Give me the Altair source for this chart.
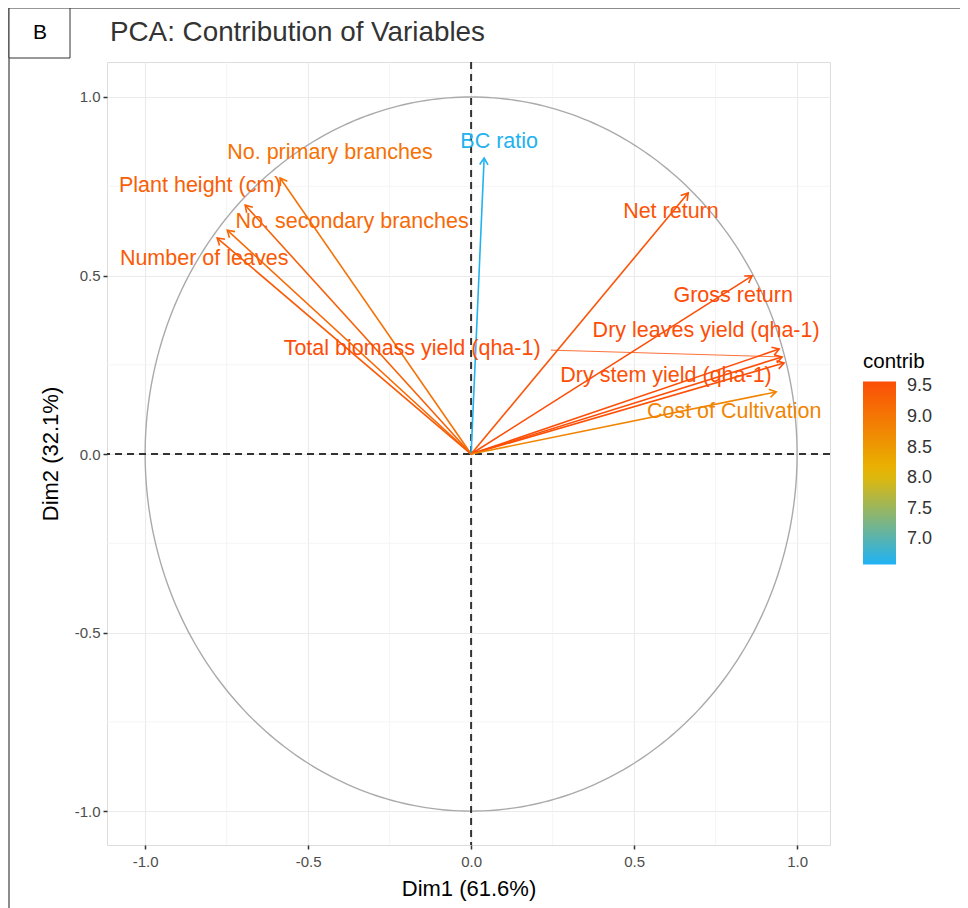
import altair as alt
import pandas as pd
import numpy as np

# ---- data ----
variables = ["Plant height (cm)", "No. primary branches", "No. secondary branches",
             "Number of leaves", "BC ratio", "Net return", "Gross return",
             "Dry leaves yield (qha-1)", "Total biomass yield (qha-1)",
             "Dry stem yield (qha-1)", "Cost of Cultivation"]
dim1 = [-0.693, -0.586, -0.748, -0.779, 0.040, 0.666, 0.862, 0.945, 0.954, 0.960, 0.936]
dim2 = [0.697, 0.773, 0.627, 0.605, 0.829, 0.731, 0.499, 0.294, 0.272, 0.255, 0.174]
contrib = [9.33, 9.07, 9.20, 9.40, 6.62, 9.50, 9.60, 9.58, 9.58, 9.55, 8.80]
label_x = [-0.831, -0.433, -0.365, -0.819, 0.086, 0.613, 0.804, 0.721, -0.181, 0.598, 0.807]
label_y = [0.751, 0.843, 0.650, 0.546, 0.874, 0.678, 0.443, 0.345, 0.294, 0.218, 0.118]

leader_from_x = [0.245]
leader_from_y = [0.291]
leader_to_x = [0.954]
leader_to_y = [0.272]

x_ticks = [-1.0, -0.5, 0.0, 0.5, 1.0]
y_ticks = [-1.0, -0.5, 0.0, 0.5, 1.0]
minor_grid = [-0.75, -0.25, 0.25, 0.75]
legend_ticks = [7.0, 7.5, 8.0, 8.5, 9.0, 9.5]

# ---- layout ----
W, H = 723, 783
XDOM = [-1.117, 1.101]
YDOM = [-1.095, 1.098]
px_x = W / (XDOM[1] - XDOM[0])
px_y = H / (YDOM[1] - YDOM[0])

df = pd.DataFrame({"var": variables, "x": dim1, "y": dim2, "contrib": contrib,
                   "lx": label_x, "ly": label_y})
df["x0"] = 0.0
df["y0"] = 0.0
df["angle"] = np.mod(np.degrees(np.arctan2(-df["y"] * px_y, df["x"] * px_x)), 360)

lead = pd.DataFrame({"x": leader_from_x, "y": leader_from_y,
                     "x2": leader_to_x, "y2": leader_to_y, "contrib": [9.58]})

FONT = "Liberation Sans"

xs = alt.Scale(domain=XDOM, nice=False, zero=False)
ys = alt.Scale(domain=YDOM, nice=False, zero=False)
cscale = alt.Scale(domain=[6.59, 8.085, 9.58], range=["#1FB2F5", "#E7B800", "#FC4E07"],
                   interpolate="rgb")

minus_fix = "replace(format(datum.value, '.1f'), '\u2212', '-')"

x_axis = alt.Axis(
    values=x_ticks, labelExpr=minus_fix, title="Dim1 (61.6%)", grid=True,
    gridColor="#EBEBEB", gridWidth=1.1, domain=False, tickColor="#333333",
    tickSize=4, tickWidth=1.5, labelColor="#4D4D4D", labelFontSize=15, labelFont=FONT,
    labelPadding=5, titleFont=FONT, titleFontSize=22, titleFontWeight="normal",
    titleColor="#000000", titlePadding=9)
y_axis = alt.Axis(
    values=y_ticks, labelExpr=minus_fix, title="Dim2 (32.1%)", grid=True,
    gridColor="#EBEBEB", gridWidth=1.1, domain=False, tickColor="#333333",
    tickSize=4, tickWidth=1.5, labelColor="#4D4D4D", labelFontSize=15, labelFont=FONT,
    labelPadding=3, titleFont=FONT, titleFontSize=22, titleFontWeight="normal",
    titleColor="#000000", titlePadding=12)


def X(f):
    return alt.X(f, scale=xs, axis=x_axis)


def Y(f):
    return alt.Y(f, scale=ys, axis=y_axis)


def C(legend=None):
    if legend is None:
        return alt.Color("contrib:Q", scale=cscale, legend=None)
    return alt.Color("contrib:Q", scale=cscale, title="contrib", legend=legend)


# minor grid
mg = pd.DataFrame({"v": minor_grid})
minor_v = alt.Chart(mg).mark_rule(color="#F2F2F2", strokeWidth=0.8).encode(x=X("v:Q"))
minor_h = alt.Chart(mg).mark_rule(color="#F2F2F2", strokeWidth=0.8).encode(y=Y("v:Q"))

# unit circle
circle = alt.Chart(alt.sequence(0, 361, 1, as_="t")).transform_calculate(
    cx="cos(datum.t * PI / 180)", cy="sin(datum.t * PI / 180)"
).mark_line(color="#AAAAAA", strokeWidth=1.4).encode(
    x=X("cx:Q"), y=Y("cy:Q"), order="t:Q")

zero = pd.DataFrame({"v": [0.0]})
zero_v = alt.Chart(zero).mark_rule(color="#333333", strokeWidth=2, strokeDash=[7, 5]).encode(x=X("v:Q"))
zero_h = alt.Chart(zero).mark_rule(color="#333333", strokeWidth=2, strokeDash=[7, 5]).encode(y=Y("v:Q"))

legend = alt.Legend(
    type="gradient", orient="none", legendX=756, legendY=290, gradientLength=183,
    gradientThickness=33, direction="vertical", gradientOpacity=1,
    values=legend_ticks, format=".1f", titleFont=FONT, titleFontSize=20.5,
    titleFontWeight="normal", titleColor="#000000", titlePadding=9,
    labelFont=FONT, labelFontSize=18, labelColor="#333333", labelOffset=11,
    gradientStrokeWidth=0, tickCount=6)

# invisible layer that carries the colour legend
legend_host = alt.Chart(df).mark_circle(size=0, opacity=1).encode(
    x=X("x:Q"), y=Y("y:Q"), color=C(legend))

arrows = alt.Chart(df).mark_rule(strokeWidth=1.6).encode(
    x=X("x0:Q"), y=Y("y0:Q"), x2="x:Q", y2="y:Q", color=C())

heads = alt.Chart(df).mark_point(
    shape="M-1,-0.62L0,0L-1,0.62", filled=False, strokeWidth=1.6, size=180, opacity=1
).encode(x=X("x:Q"), y=Y("y:Q"),
         angle=alt.Angle("angle:Q", scale=None), color=C())

leaders = alt.Chart(lead).mark_rule(strokeWidth=0.8).encode(
    x=X("x:Q"), y=Y("y:Q"), x2="x2:Q", y2="y2:Q", color=C())

labels = alt.Chart(df).mark_text(font=FONT, fontSize=21.5, align="center", baseline="middle").encode(
    x=X("lx:Q"), y=Y("ly:Q"), text="var:N", color=C())

one = pd.DataFrame({"a": [0]})
title = alt.Chart(one).mark_text(font=FONT, fontSize=27.8, align="left", baseline="middle",
                                 color="#333333").encode(
    x=alt.value(3), y=alt.value(-29), text=alt.value("PCA: Contribution of Variables"))
frame_top = alt.Chart(one).mark_rule(color="#666666", strokeWidth=1.5).encode(
    x=alt.value(-98), x2=alt.value(853), y=alt.value(-54))
frame_left = alt.Chart(one).mark_rule(color="#666666", strokeWidth=1.5).encode(
    x=alt.value(-98), y=alt.value(-54), y2=alt.value(846))
box = alt.Chart(one).mark_rect(fill="white", stroke="#333333", strokeWidth=1).encode(
    x=alt.value(-98), x2=alt.value(-37), y=alt.value(-54), y2=alt.value(-4))
box_text = alt.Chart(one).mark_text(font=FONT, fontSize=21, color="#000000",
                                    baseline="middle").encode(
    x=alt.value(-67), y=alt.value(-29), text=alt.value("B"))

chart = alt.layer(
    minor_v, minor_h, circle, zero_v, zero_h, legend_host, arrows, heads, leaders, labels,
    frame_top, frame_left, box, box_text, title
).resolve_legend(color="independent").properties(
    width=W, height=H,
    autosize=alt.AutoSizeParams(type="none"),
    padding={"left": 99, "top": 54, "right": 130, "bottom": 63},
).configure_view(strokeWidth=0, stroke="transparent").configure(background="white")

chart.save("out.html", embed_options={"renderer": "svg", "actions": False})
